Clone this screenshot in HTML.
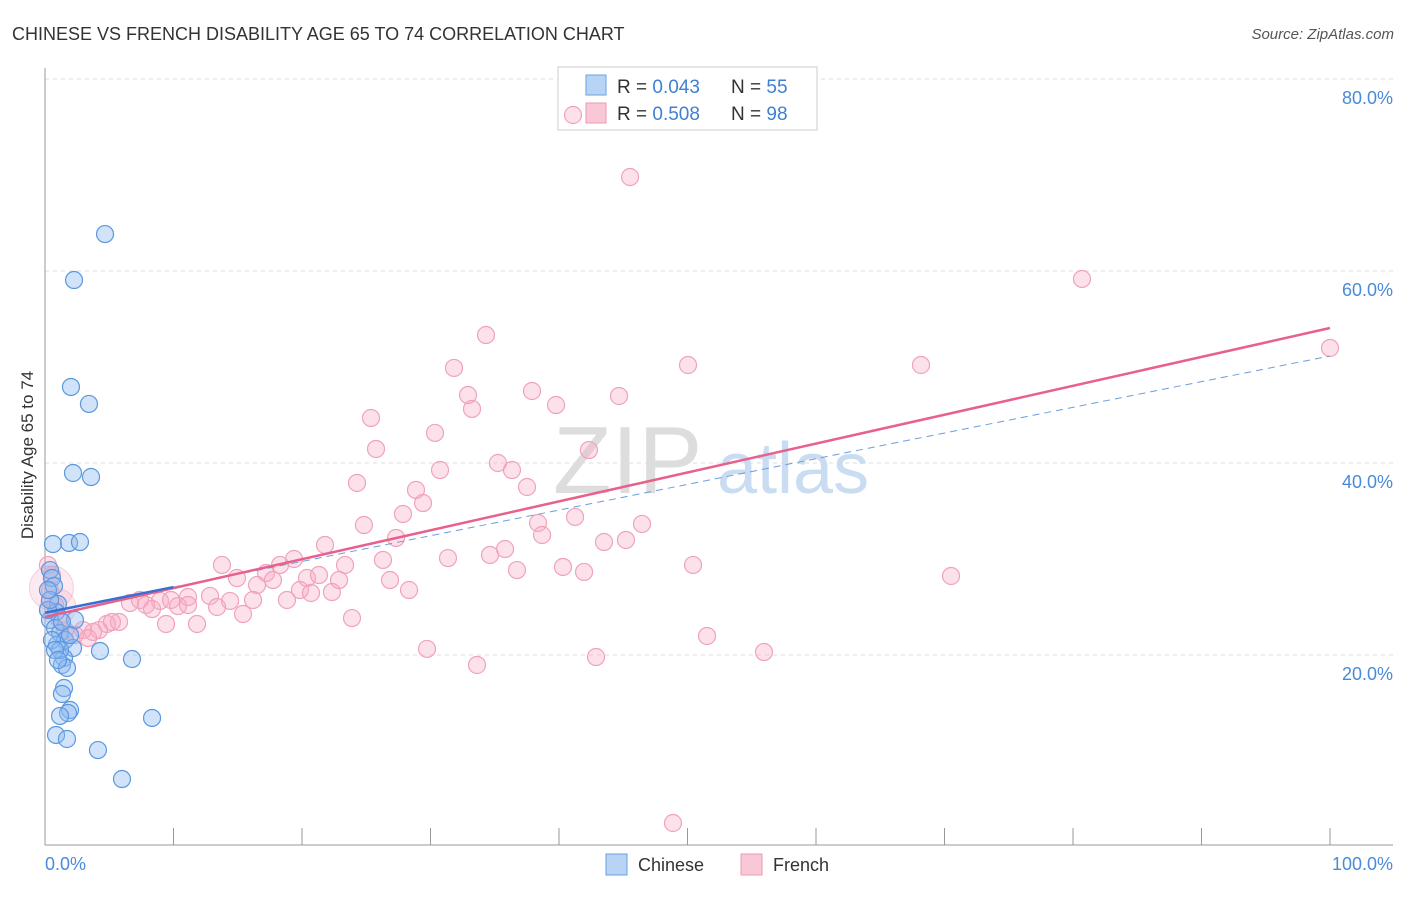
<!DOCTYPE html>
<html><head><meta charset="utf-8"><style>
body{margin:0;background:#fff;font-family:"Liberation Sans",sans-serif;}
svg text{font-family:"Liberation Sans",sans-serif;}
</style></head><body>
<svg id="chart" width="1406" height="892">
<text x="12" y="40" font-size="18" fill="#333">CHINESE VS FRENCH DISABILITY AGE 65 TO 74 CORRELATION CHART</text>
<text x="1394" y="39" font-size="15" fill="#555" text-anchor="end" font-style="italic">Source: ZipAtlas.com</text>
<g id="grid"></g>
<text x="553" y="493" font-size="96" fill="#ddd" font-family="Liberation Serif">ZIP</text>
<text x="717" y="493" font-size="72" fill="#c9dcf2">atlas</text>
<g>
<rect x="558" y="67" width="259" height="63" fill="#fff" stroke="#ccc"/>
<rect x="586" y="75" width="20" height="20" fill="#b8d4f5" stroke="#6aa0e0"/>
<rect x="586" y="103" width="20" height="20" fill="#f9c8d6" stroke="#ec99b3"/>
<text x="617" y="93" font-size="19" fill="#333">R = <tspan fill="#3f7fd4">0.043</tspan></text>
<text x="731" y="93" font-size="19" fill="#333">N = <tspan fill="#3f7fd4">55</tspan></text>
<text x="617" y="120" font-size="19" fill="#333">R = <tspan fill="#3f7fd4">0.508</tspan></text>
<text x="731" y="120" font-size="19" fill="#333">N = <tspan fill="#3f7fd4">98</tspan></text>
</g>
<g id="marks"></g>
<text transform="translate(33,455) rotate(-90)" font-size="17" fill="#333" text-anchor="middle">Disability Age 65 to 74</text>
<g>
<rect x="606" y="854" width="21" height="21" fill="#b8d4f5" stroke="#6aa0e0"/>
<text x="638" y="871" font-size="18" fill="#333">Chinese</text>
<rect x="741" y="854" width="21" height="21" fill="#f9c8d6" stroke="#ec99b3"/>
<text x="773" y="871" font-size="18" fill="#333">French</text>
</g>
</svg>
<script>
const chineseX=[4.67,2.26,2.02,3.42,2.18,3.58,0.62,1.87,2.72,0.39,0.54,0.70,1.01,0.86,0.39,0.78,1.17,1.56,0.93,2.18,4.28,6.77,1.48,1.32,1.71,1.48,1.32,1.95,1.79,1.17,8.33,0.86,1.71,4.12,5.99,0.23,0.54,1.17,1.95,2.33,0.39,1.32,0.23,0.78,1.01];
const chineseY=[63.85,59.06,47.92,46.15,38.96,38.54,31.56,31.67,31.77,28.85,28.02,27.19,25.31,24.48,23.65,22.81,22.29,21.56,21.04,20.73,20.42,19.58,19.69,18.96,18.65,16.56,15.94,14.27,13.96,13.65,13.44,11.67,11.25,10.10,7.08,24.69,21.56,20.52,22.08,23.65,25.73,23.44,26.77,20.52,19.48];
const frenchX=[41.09,45.53,80.70,100,34.32,50.04,68.17,31.83,37.90,32.92,44.67,33.23,25.37,39.77,25.76,30.35,42.33,35.25,36.34,30.74,24.28,37.51,28.87,29.42,27.86,24.82,38.37,41.25,46.46,38.68,27.32,45.21,43.50,35.80,34.63,31.36,21.79,26.30,40.31,41.95,36.73,50.43,70.51,19.38,18.29,23.35,26.85,28.33,13.77,14.94,17.20,19.84,20.39,22.88,21.32,16.50,17.74,16.19,18.83,20.70,22.33,12.84,11.13,8.95,6.61,7.39,9.81,7.86,10.35,11.13,14.40,13.39,15.41,8.33,23.89,11.83,9.42,5.76,4.82,5.21,4.20,3.74,2.96,2.33,3.35,1.56,1.17,0.78,0.39,51.52,29.73,42.88,55.95,33.62,48.87,0.54,0.23];
const frenchY=[76.25,69.79,59.17,51.98,53.33,50.21,50.21,49.90,47.50,47.08,46.98,45.63,44.69,46.04,41.46,43.13,41.35,40.00,39.27,39.27,37.92,37.50,37.19,35.83,34.69,33.54,33.75,34.38,33.65,32.50,32.19,31.98,31.77,31.04,30.42,30.10,31.46,29.90,29.17,28.65,28.85,29.38,28.23,30.00,29.38,29.38,27.81,26.77,29.38,28.02,28.54,26.77,28.02,27.81,28.33,27.29,27.81,25.73,25.73,26.46,26.56,26.15,26.04,25.63,25.42,25.73,25.73,25.21,25.10,25.21,25.63,25.00,24.27,24.79,23.85,23.23,23.23,23.44,23.23,23.44,22.60,22.40,22.60,22.08,21.77,22.60,23.65,25.21,26.77,21.98,20.63,19.79,20.31,18.96,2.50,28.33,29.38];
const yTicks=[20,40,60,80];
const yTickLabels=["20.0%","40.0%","60.0%","80.0%"];
const xTickLabels=["0.0%","100.0%"];
const frenchTrend=[23.96,54.06];
const chineseTrend=[24.4,51.15];
const chineseSolidEnd=10;

const NS="http://www.w3.org/2000/svg";
const X=v=>45+v*12.85, Y=v=>847-v*9.6;
function mk(tag,attrs,parent){const e=document.createElementNS(NS,tag);for(const k in attrs)e.setAttribute(k,attrs[k]);parent.appendChild(e);return e;}
const grid=document.getElementById('grid'), marks=document.getElementById('marks');
yTicks.forEach((t,i)=>{
 const l=mk('line',{x1:45,x2:1393,y1:Y(t),y2:Y(t),stroke:'#ddd','stroke-dasharray':'4,4'},grid);
 
 
 const tx=mk('text',{x:1393,y:Y(t)+25,'font-size':18,fill:'#4a8ad8','text-anchor':'end'},grid);
 tx.textContent=yTickLabels[i];
 
 
});
const ax=mk('line',{x1:45,x2:45,y1:68,y2:845,stroke:'#999'},grid);


const bx=mk('line',{x1:45,x2:1393,y1:845,y2:845,stroke:'#999'},grid);


for(let k=0;k<=10;k++){
 const t=mk('line',{x1:X(k*10),x2:X(k*10),y1:828,y2:845,stroke:'#999'},grid);
 
 
}
[[0,'start'],[100,'end']].forEach((p,i)=>{
 const t=mk('text',{x:i?1393:45,y:870,'font-size':18,fill:'#4a8ad8','text-anchor':p[1]},grid);
 t.textContent=xTickLabels[i];
 
 
});
[[0.5,27,22],[1.0,25,18]].forEach(b=>{
 const c=mk('circle',{cx:X(b[0]),cy:Y(b[1]),r:b[2],fill:'rgba(248,170,195,0.25)',stroke:'rgba(236,150,178,0.4)'},marks);
 
 
});
frenchX.forEach((x,i)=>{
 const c=mk('circle',{cx:X(x),cy:Y(frenchY[i]),r:8.5,fill:'rgba(248,170,195,0.35)',stroke:'#efa3bb','stroke-width':1.2},marks);
 
 
});
chineseX.forEach((x,i)=>{
 const c=mk('circle',{cx:X(x),cy:Y(chineseY[i]),r:8.5,fill:'rgba(140,185,240,0.4)',stroke:'#5b98e0','stroke-width':1.2},marks);
 
 
});
const cy=x=>chineseTrend[0]+(chineseTrend[1]-chineseTrend[0])*x/100;
const d=mk('line',{x1:X(chineseSolidEnd),y1:Y(cy(chineseSolidEnd)),x2:X(100),y2:Y(chineseTrend[1]),stroke:'#6a9de0','stroke-width':1,'stroke-dasharray':'7,5'},marks);


const fl=mk('line',{x1:X(0),y1:Y(frenchTrend[0]),x2:X(100),y2:Y(frenchTrend[1]),stroke:'#e8608c','stroke-width':2.5},marks);


const cl=mk('line',{x1:X(0),y1:Y(chineseTrend[0]),x2:X(chineseSolidEnd),y2:Y(cy(chineseSolidEnd)),stroke:'#3b70d0','stroke-width':2.5},marks);


</script>
</body></html>
